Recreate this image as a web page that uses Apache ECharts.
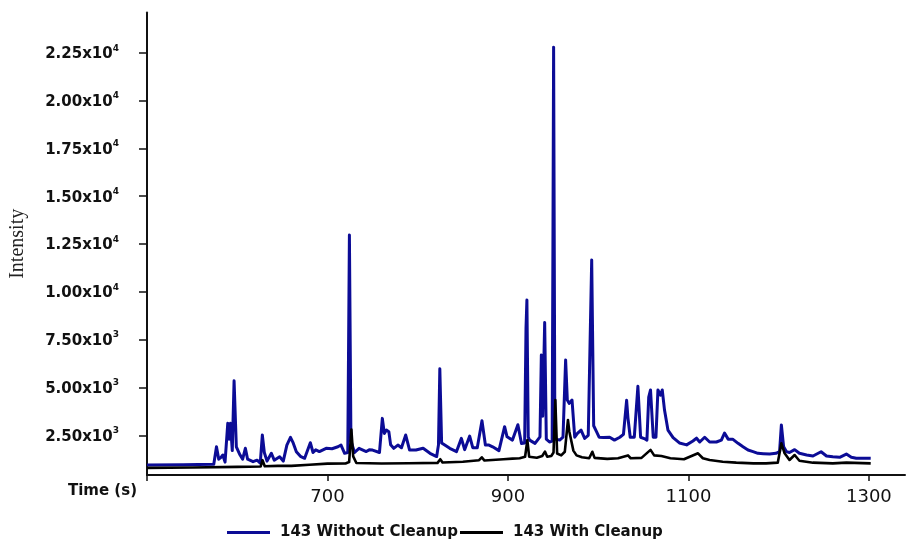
<!DOCTYPE html>
<html>
<head>
<meta charset="utf-8">
<script src="https://cdn.jsdelivr.net/npm/echarts@6/dist/echarts.min.js"></script>
<style>
  html, body { margin: 0; padding: 0; background: #fff; }
  #chart { width: 908px; height: 543px; }
</style>
</head>
<body>
<div id="chart"></div>
<script>
// retention time (s) and intensity
const timeWithout = [
  500, 540, 574, 577, 579.5, 582, 584, 586.5, 589.5, 591, 592.5, 594.5, 596.5, 599, 603, 606, 609, 611.5,
  617.5, 622, 625.5, 627.8, 630, 633, 637.8, 641, 647, 651, 655, 659, 662, 665.5, 670, 674.7, 681, 684,
  687, 691, 698.5, 705, 711.6, 715, 719, 722.5, 724.3, 726, 730, 735, 743, 746.3, 750, 757.6, 760.8, 763,
  765.3, 768, 770, 773.4, 778, 782, 786.7, 791, 798, 806, 813.6, 821, 823, 824.5, 826.5, 830, 835.5, 843,
  848.4, 852, 857.6, 861, 866, 871.2, 875, 879, 883, 890, 896.3, 899, 905, 911, 915, 918.5, 920, 921,
  922.5, 924, 930, 935.5, 937, 938.5, 940.7, 942.5, 946, 949, 949.8, 950.6, 952, 957.3, 961, 963.9, 965.8,
  967.8, 971, 974, 977, 981, 985, 989, 992.8, 995, 998, 1001, 1006, 1012.7, 1018, 1024, 1028, 1031.5,
  1033, 1035.5, 1040, 1044, 1047, 1051, 1054, 1056, 1058, 1061, 1064, 1066.2, 1069, 1071, 1073.5, 1077.3,
  1083, 1090, 1098, 1105, 1109, 1112.5, 1118, 1123.5, 1131, 1136.5, 1140, 1144, 1149, 1155, 1160.5, 1166,
  1171.6, 1177, 1183, 1190, 1197, 1201, 1203, 1205.5, 1208.5, 1212, 1217.7, 1223, 1231, 1238, 1247, 1253,
  1260, 1267.6, 1275, 1280.5, 1286, 1293, 1302
];
const intensityWithout = [
  950, 960, 990, 1900, 1250, 1350, 1470, 1100, 3125, 2300, 3125, 1700, 5350, 1900, 1480, 1250, 1820, 1250,
  1120, 1200, 1050, 2515, 1600, 1150, 1560, 1200, 1380, 1150, 1990, 2390, 2100, 1640, 1400, 1300, 2110, 1600,
  1740, 1650, 1820, 1800, 1900, 1990, 1560, 1600, 12970, 2200, 1600, 1820, 1650, 1740, 1730, 1600, 3385, 2600,
  2775, 2690, 2000, 1820, 1990, 1850, 2515, 1730, 1730, 1820, 1560, 1390, 2000, 5980, 2100, 1990, 1820, 1650,
  2340, 1750, 2460, 1850, 1850, 3260, 1990, 1990, 1900, 1700, 2950, 2420, 2250, 3050, 2075, 2100, 8090, 9570,
  2400, 2250, 2080, 2420, 6700, 3500, 8390, 2300, 2150, 2200, 12000, 22790, 2300, 2250, 2400, 6440, 4340,
  4170, 4340, 2400, 2600, 2775, 2340, 2500, 11660, 3000, 2700, 2400, 2380, 2400, 2250, 2400, 2550, 4330,
  3400, 2400, 2400, 5060, 2400, 2330, 2250, 4500, 4870, 2400, 2400, 4870, 4600, 4870, 3820, 2775,
  2380, 2100, 2000, 2200, 2350, 2150, 2400, 2150, 2150, 2250, 2620, 2300, 2300, 2080, 1900, 1730,
  1650, 1560, 1540, 1520, 1560, 1650, 3040, 1900, 1650, 1600, 1750, 1560, 1470, 1420, 1640, 1420,
  1380, 1350, 1520, 1350, 1300, 1300, 1295
];

const timeWith = [
  500, 550, 600, 626, 628, 630.5, 645, 660, 680, 700, 720, 724, 726.5, 728.5, 732, 760, 790, 822, 825,
  827.5, 850, 868, 871, 874, 895, 905, 913, 919, 921.5, 923.5, 932, 938, 941, 943.5, 948, 950.5, 952.5,
  954.5, 959, 963, 966.5, 968, 970, 972.5, 976, 982, 990, 993.5, 996, 1010, 1022, 1033, 1036, 1048, 1058,
  1062, 1070, 1080, 1095, 1110.6, 1116, 1123.5, 1138, 1153, 1172, 1186, 1199, 1203, 1206.6, 1212, 1217.7,
  1223, 1238, 1260, 1275, 1302
];
const intensityWith = [
  800, 820, 850, 870, 1200, 880, 900, 900, 960, 1020, 1030, 1100, 2800, 1400, 1050, 1030, 1040, 1060, 1250,
  1080, 1120, 1200, 1350, 1180, 1250, 1280, 1300, 1380, 2250, 1380, 1330, 1420, 1650, 1380, 1420, 1600, 4340,
  1550, 1450, 1640, 3300, 2700, 2800, 1700, 1450, 1350, 1300, 1640, 1320, 1270, 1300, 1450, 1300, 1320, 1740,
  1450, 1420, 1300, 1250, 1560, 1300, 1210, 1120, 1070, 1035, 1035, 1070, 2080, 1560, 1210, 1470,
  1170, 1070, 1035, 1070, 1035
];

const seriesNames = ['143 Without Cleanup', '143 With Cleanup'];
const xTicks = [500, 700, 900, 1100, 1300];
const xTickLabels = [700, 900, 1100, 1300];
const yTicks = [2500, 5000, 7500, 10000, 12500, 15000, 17500, 20000, 22500];

const zip = (xs, ys) => xs.map((x, i) => [x, ys[i]]);

const chart = echarts.init(document.getElementById('chart'));

const option = {
  backgroundColor: '#fff',
  animation: false,
  grid: { left: 147, top: 12.5, width: 758, height: 462.6, containLabel: false, outerBoundsMode: 'none' },
  legend: {
    left: 227,
    top: 525,
    padding: 0,
    itemGap: 2,
    itemWidth: 43,
    itemHeight: 3,
    textStyle: {
      fontFamily: 'DejaVu Sans',
      fontWeight: 'bold',
      fontSize: 15,
      color: '#111',
      padding: [6, 0, 0, 5]
    },
    data: [
      { name: seriesNames[0], icon: 'rect' },
      { name: seriesNames[1], icon: 'rect' }
    ]
  },
  graphic: [
    {
      type: 'text',
      right: 908 - 137,
      top: 484,
      style: { text: 'Time (s)', font: 'bold 15px "DejaVu Sans"', fill: '#111' }
    }
  ],
  xAxis: {
    type: 'value',
    min: 500,
    max: 1340,
    axisLine: { onZero: false, lineStyle: { color: '#111', width: 2 } },
    axisTick: { show: true, inside: false, length: 6, lineStyle: { color: '#111', width: 1.5 }, customValues: xTicks },
    axisLabel: {
      customValues: xTickLabels,
      margin: 13,
      formatter: (v) => String(v),
      fontFamily: 'DejaVu Sans',
      fontSize: 18,
      color: '#111'
    },
    splitLine: { show: false }
  },
  yAxis: {
    type: 'value',
    min: 420,
    max: 24600,
    name: 'Intensity',
    nameLocation: 'middle',
    nameRotate: 90,
    nameGap: 119,
    nameTextStyle: { fontFamily: 'Liberation Serif', fontSize: 20, color: '#222' },
    axisLine: { show: true, onZero: false, lineStyle: { color: '#111', width: 2 } },
    axisTick: { show: true, length: 8, lineStyle: { color: '#111', width: 1.5 }, customValues: yTicks },
    axisLabel: {
      customValues: yTicks,
      margin: 28,
      formatter: (v) => {
        const e = Math.floor(Math.log10(v));
        const m = (v / Math.pow(10, e)).toFixed(2);
        return '{b|' + m + 'x10}{s|' + e + '}';
      },
      rich: {
        b: { fontFamily: 'DejaVu Sans', fontWeight: 'bold', fontSize: 15, color: '#111', lineHeight: 18, verticalAlign: 'bottom' },
        s: { fontFamily: 'DejaVu Sans', fontWeight: 'bold', fontSize: 9, color: '#111', lineHeight: 18, verticalAlign: 'top', padding: [0, 0, 6, 0] }
      }
    },
    splitLine: { show: false }
  },
  series: [
    {
      name: seriesNames[0],
      type: 'line',
      data: zip(timeWithout, intensityWithout),
      symbol: 'none',
      color: '#0c0c96',
      lineStyle: { width: 3, color: '#0c0c96', join: 'round' },
      z: 2
    },
    {
      name: seriesNames[1],
      type: 'line',
      data: zip(timeWith, intensityWith),
      symbol: 'none',
      color: '#000',
      lineStyle: { width: 2.6, color: '#000', join: 'round' },
      z: 3
    }
  ]
};

chart.setOption(option);
</script>
</body>
</html>
